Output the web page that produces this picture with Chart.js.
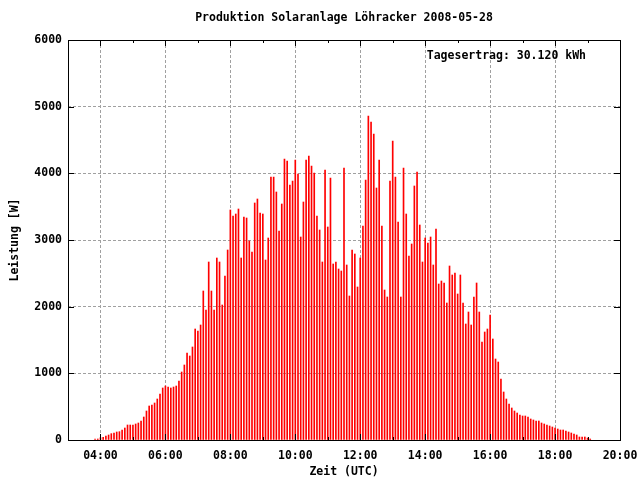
<!DOCTYPE html>
<html>
<head>
<meta charset="utf-8">
<title>Produktion Solaranlage Löhracker 2008-05-28</title>
<script src="https://cdn.jsdelivr.net/npm/chart.js@4.4.1/dist/chart.umd.min.js"></script>
<style>
  html, body { margin: 0; padding: 0; background: #fff; }
  #wrap { width: 640px; height: 480px; }
</style>
</head>
<body>
<div id="wrap"><canvas id="solarChart" width="640" height="480"></canvas></div>
<script>
// Messwerte alle 5 Minuten, erster Wert um 03:50 UTC
var startMinute = 3 * 60 + 50;
var stepMinute = 5;

// Leistung [W] 03:50 - 11:45
var leistungVormittag = [
  15, 15, 35, 40, 60, 75, 95, 105, 120, 125, 150, 180, 225, 225, 225, 240,
  255, 285, 345, 435, 510, 525, 555, 615, 690, 780, 810, 795, 780, 795, 810, 885,
  1020, 1125, 1305, 1260, 1395, 1665, 1635, 1725, 2235, 1950, 2670, 2235, 1950, 2730,
  2670, 2025, 2460, 2850, 3450, 3360, 3390, 3465, 2730, 3345, 3330, 2985, 2820, 3555,
  3615, 3405, 3390,
  2700, 3030, 3945, 3945, 3720, 3135, 3540, 4215, 4185, 3825, 3885, 4200, 3990, 3045,
  3570, 4200, 4260, 4110, 4005, 3360, 3150, 2670, 4050, 3195, 3930, 2640, 2670, 2565,
  2535, 4080, 2625, 2160
];

// Leistung [W] 11:50 - 19:05
var leistungNachmittag = [
  2850, 2790, 2295, 2730, 3210, 3900, 4860, 4770, 4590, 3780, 4200, 3210, 2250, 2145,
  3885, 4485, 3945, 3270, 2145, 4080, 3390, 2760, 2940, 3810, 4020, 3225, 2670, 3030,
  2955, 3045, 2625,
  3165, 2340, 2385, 2355, 2055, 2610, 2475, 2505, 2190, 2475, 2055, 1740, 1920, 1725,
  2145, 2355, 1920, 1470, 1620, 1665, 1875, 1515, 1215, 1170, 915, 720, 615, 540,
  480, 435, 405, 375,
  360, 360, 345, 315, 300, 285, 285, 255, 240, 225, 210, 195, 180, 165, 150, 150,
  135, 120, 105, 90, 75, 45, 45, 45, 30, 15
];

var xTickStunden = [4, 6, 8, 10, 12, 14, 16, 18, 20];
var yTickWerte = [0, 1000, 2000, 3000, 4000, 5000, 6000];
var tagesertrag = 'Tagesertrag: 30.120 kWh';

var leistung = leistungVormittag.concat(leistungNachmittag);
var punkte = leistung.map(function(w, i) {
  return { x: (startMinute + i * stepMinute) / 60, y: w };
});

var monoFont = { family: "'DejaVu Sans Mono', monospace", size: 11.5, weight: 'bold' };

function zeitLabel(v) {
  return (v < 10 ? '0' : '') + v + ':00';
}

// gnuplot-Rahmen mit Ticks nach innen und Beschriftung
var rahmenPlugin = {
  id: 'rahmen',
  afterDatasetsDraw: function(chart) {
    var ctx = chart.ctx, a = chart.chartArea;
    var xs = chart.scales.x, ys = chart.scales.y;
    ctx.save();
    ctx.strokeStyle = '#000';
    ctx.lineWidth = 1;
    ctx.beginPath();
    yTickWerte.forEach(function(v) {
      var py = Math.round(ys.getPixelForValue(v)) + 0.5;
      ctx.moveTo(a.left, py); ctx.lineTo(a.left + 6, py);
      ctx.moveTo(a.right, py); ctx.lineTo(a.right - 6, py);
    });
    for (var h = xs.min + 1; h < xs.max; h++) {
      var px = Math.round(xs.getPixelForValue(h)) + 0.5;
      var len = xTickStunden.indexOf(h) >= 0 ? 6 : 3;
      ctx.moveTo(px, a.bottom); ctx.lineTo(px, a.bottom - len);
      ctx.moveTo(px, a.top); ctx.lineTo(px, a.top + len);
    }
    ctx.stroke();
    ctx.strokeRect(Math.round(a.left) + 0.5, Math.round(a.top) + 0.5,
      Math.round(a.right - a.left), Math.round(a.bottom - a.top));

    ctx.font = 'bold 11.5px "DejaVu Sans Mono", monospace';
    ctx.fillStyle = '#000';
    ctx.textAlign = 'right';
    ctx.textBaseline = 'middle';
    ctx.fillText(tagesertrag, a.right - 34, a.top + 16);
    ctx.restore();
  }
};

new Chart('solarChart', {
  type: 'bar',
  data: {
    datasets: [{
      label: tagesertrag,
      data: punkte,
      backgroundColor: '#ff0000',
      borderWidth: 0,
      barThickness: 1,
      grouped: false
    }]
  },
  options: {
    responsive: false,
    animation: false,
    devicePixelRatio: 1,
    layout: { padding: { top: 0, right: 20, bottom: 0, left: 0 } },
    plugins: {
      legend: { display: false },
      tooltip: { enabled: false },
      title: {
        display: true,
        text: 'Produktion Solaranlage Löhracker 2008-05-28',
        fullSize: false,
        color: '#000',
        font: monoFont,
        padding: { top: 11, bottom: 15.2 }
      }
    },
    scales: {
      x: {
        type: 'linear',
        min: 3,
        max: 20,
        offset: false,
        afterBuildTicks: function(scale) {
          scale.ticks = xTickStunden.map(function(v) { return { value: v }; });
        },
        afterFit: function(scale) {
          scale.height = 40;
          scale.paddingLeft = 0;
          scale.paddingRight = 20;
        },
        grid: { color: '#a0a0a0', drawTicks: false, offset: false },
        border: { display: false, dash: [3, 2] },
        ticks: {
          color: '#000',
          font: monoFont,
          padding: 9,
          maxRotation: 0,
          autoSkip: false,
          callback: function(v) { return zeitLabel(v); }
        },
        title: {
          display: true,
          text: 'Zeit (UTC)',
          color: '#000',
          font: monoFont,
          padding: { top: 0, bottom: 1 }
        }
      },
      y: {
        min: 0,
        max: 6000,
        afterBuildTicks: function(scale) {
          scale.ticks = yTickWerte.map(function(v) { return { value: v }; });
        },
        afterFit: function(scale) { scale.width = 68; },
        grid: { color: '#a0a0a0', drawTicks: false },
        border: { display: false, dash: [3, 2] },
        ticks: {
          color: '#000',
          font: monoFont,
          padding: 6,
          callback: function(v) { return String(v); }
        },
        title: {
          display: true,
          text: 'Leistung [W]',
          color: '#000',
          font: monoFont,
          padding: { top: 8, bottom: 0 }
        }
      }
    }
  },
  plugins: [rahmenPlugin]
});
</script>
</body>
</html>
